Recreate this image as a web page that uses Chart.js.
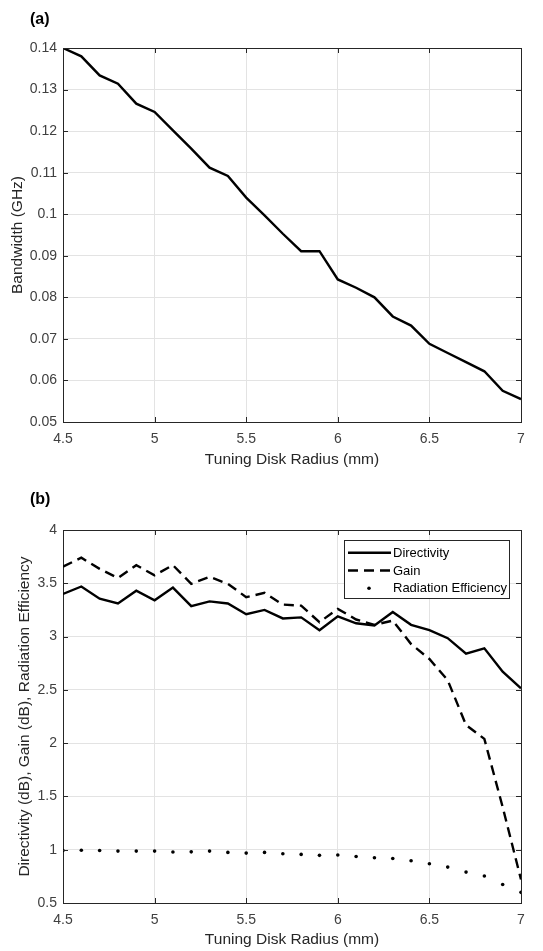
<!DOCTYPE html>
<html>
<head>
<meta charset="utf-8">
<script src="https://cdn.jsdelivr.net/npm/chart.js@4.4.1/dist/chart.umd.min.js"></script>
<style>
  html, body { margin: 0; padding: 0; background: #fff; }
  body { width: 543px; height: 951px; position: relative; overflow: hidden; }
  .wrap { position: absolute; left: 0; width: 543px; }
  .tag { position: absolute; left: 30px; z-index: 2; font: bold 16px "Liberation Sans", Arial, sans-serif; color: #000; }
</style>
</head>
<body>
<div class="wrap" style="top:0;height:475px"><canvas id="bwChart" width="543" height="475"></canvas></div>
<div class="wrap" style="top:475px;height:476px"><canvas id="gainChart" width="543" height="476"></canvas></div>
<div class="tag" style="top:10px">(a)</div>
<div class="tag" style="top:490px">(b)</div>
<script>
// tuning disk radius (mm)
const radius = [4.5, 4.6, 4.7, 4.8, 4.9, 5.0, 5.1, 5.2, 5.3, 5.4, 5.5, 5.6, 5.7,
                5.8, 5.9, 6.0, 6.1, 6.2, 6.3, 6.4, 6.5, 6.6, 6.7, 6.8, 6.9, 7.0];

// (a) bandwidth in GHz
const bandwidth = [0.1400, 0.1380, 0.1334, 0.1314, 0.1266, 0.1246, 0.1202, 0.1158, 0.1112,
                   0.1092, 0.1040, 0.0997, 0.0953, 0.0911, 0.0911, 0.0843, 0.0823, 0.0800,
                   0.0754, 0.0732, 0.0688, 0.0666, 0.0644, 0.0622, 0.0575, 0.0555];

// (b) directivity / gain in dB, radiation efficiency
const directivity = [3.40, 3.47, 3.355, 3.31, 3.43, 3.34, 3.46, 3.285, 3.33, 3.31, 3.21, 3.25, 3.17,
                     3.18, 3.06, 3.19, 3.125, 3.105, 3.23, 3.11, 3.06, 2.985, 2.84, 2.89, 2.67, 2.515];
const gain = [3.657, 3.74, 3.635, 3.55, 3.67, 3.575, 3.67, 3.495, 3.56, 3.495, 3.37, 3.41, 3.30,
              3.29, 3.135, 3.26, 3.16, 3.11, 3.15, 2.93, 2.79, 2.59, 2.17, 2.04, 1.40, 0.72];
const radEff = [0.993, 0.995, 0.993, 0.987, 0.987, 0.987, 0.978, 0.98, 0.987, 0.975, 0.968, 0.975, 0.962,
                0.956, 0.947, 0.95, 0.937, 0.925, 0.918, 0.896, 0.868, 0.837, 0.79, 0.753, 0.674, 0.60];

// tick values
const xTicks = [4.5, 5, 5.5, 6, 6.5, 7];
const yTicksA = [0.05, 0.06, 0.07, 0.08, 0.09, 0.1, 0.11, 0.12, 0.13, 0.14];
const yTicksB = [0.5, 1, 1.5, 2, 2.5, 3, 3.5, 4];

const FONT = '"Liberation Sans", Arial, sans-serif';
const AXIS = '#262626';
const GRID = '#e3e3e3';
const TICK = '#404040';

const pts = (ys) => radius.map((x, i) => ({ x: x, y: ys[i] }));

function scalesFor(yTicks, yTitle, xTitlePad, yTitlePad, xHeight) {
  return {
    x: {
      type: 'linear', position: 'bottom',
      min: xTicks[0], max: xTicks[xTicks.length - 1],
      afterBuildTicks: s => { s.ticks = xTicks.map(v => ({ value: v })); },
      afterFit: s => { s.height = xHeight; },
      ticks: { color: TICK, font: { family: FONT, size: 14 }, padding: 9, maxRotation: 0,
               callback: v => String(v) },
      grid: { color: GRID, drawTicks: false },
      border: { color: AXIS, width: 1 },
      title: { display: true, text: 'Tuning Disk Radius (mm)', color: AXIS,
               font: { family: FONT, size: 15.5 }, padding: { top: 0, bottom: xTitlePad } }
    },
    y: {
      type: 'linear', position: 'left',
      min: yTicks[0], max: yTicks[yTicks.length - 1],
      afterBuildTicks: s => { s.ticks = yTicks.map(v => ({ value: v })); },
      afterFit: s => { s.width = 63; },
      ticks: { color: TICK, font: { family: FONT, size: 14 }, padding: 6,
               callback: v => String(v) },
      grid: { color: GRID, drawTicks: false },
      border: { color: AXIS, width: 1 },
      title: { display: true, text: yTitle, color: AXIS,
               font: { family: FONT, size: 15.5 }, padding: { top: yTitlePad, bottom: 0 } }
    },
    x2: {
      type: 'linear', position: 'top',
      min: xTicks[0], max: xTicks[xTicks.length - 1],
      afterFit: s => { s.height = 0; },
      ticks: { display: false },
      grid: { drawOnChartArea: false, drawTicks: false },
      border: { color: AXIS, width: 1 }
    },
    y2: {
      type: 'linear', position: 'right',
      min: yTicks[0], max: yTicks[yTicks.length - 1],
      afterFit: s => { s.width = 0; },
      ticks: { display: false },
      grid: { drawOnChartArea: false, drawTicks: false },
      border: { color: AXIS, width: 1 }
    }
  };
}

// short tick marks pointing into the plot on all four sides
const innerTicks = {
  id: 'innerTicks',
  afterDraw(chart) {
    const { ctx, chartArea: a, scales } = chart;
    const len = 5;
    ctx.save();
    ctx.strokeStyle = AXIS;
    ctx.lineWidth = 1;
    ctx.beginPath();
    scales.x.ticks.forEach(t => {
      const px = Math.round(scales.x.getPixelForValue(t.value)) + 0.5;
      ctx.moveTo(px, a.bottom); ctx.lineTo(px, a.bottom - len);
      ctx.moveTo(px, a.top); ctx.lineTo(px, a.top + len);
    });
    scales.y.ticks.forEach(t => {
      const py = Math.round(scales.y.getPixelForValue(t.value)) + 0.5;
      ctx.moveTo(a.left, py); ctx.lineTo(a.left + len, py);
      ctx.moveTo(a.right, py); ctx.lineTo(a.right - len, py);
    });
    ctx.stroke();
    ctx.restore();
  }
};

// legend box drawn inside the plot, upper right
const boxLegend = {
  id: 'boxLegend',
  afterDraw(chart) {
    const { ctx, chartArea } = chart;
    const w = 165, h = 58;
    const x = chartArea.right - 12 - w;
    const y = chartArea.top + 10;
    ctx.save();
    ctx.fillStyle = '#fff';
    ctx.fillRect(x, y, w, h);
    ctx.strokeStyle = AXIS;
    ctx.lineWidth = 1;
    ctx.strokeRect(Math.round(x) + 0.5, Math.round(y) + 0.5, w, h);
    ctx.font = '13px ' + FONT;
    ctx.textBaseline = 'middle';
    chart.data.datasets.forEach((ds, i) => {
      const cy = y + 12.7 + i * 17.8;
      ctx.strokeStyle = '#000';
      ctx.fillStyle = '#000';
      if (ds.showLine === false) {
        ctx.beginPath();
        ctx.arc(x + 25, cy, 1.8, 0, Math.PI * 2);
        ctx.fill();
      } else {
        ctx.lineWidth = ds.borderWidth;
        ctx.setLineDash(ds.borderDash || []);
        ctx.beginPath();
        ctx.moveTo(x + 4, cy);
        ctx.lineTo(x + 47, cy);
        ctx.stroke();
        ctx.setLineDash([]);
      }
      ctx.fillStyle = '#000';
      ctx.fillText(ds.label, x + 49, cy + 0.5);
    });
    ctx.restore();
  }
};

new Chart(document.getElementById('bwChart'), {
  type: 'line',
  data: {
    datasets: [{
      label: 'Bandwidth',
      data: pts(bandwidth),
      borderColor: '#000',
      borderWidth: 2.4,
      pointRadius: 0,
      tension: 0,
      fill: false,
      xAxisID: 'x', yAxisID: 'y'
    }]
  },
  options: {
    responsive: false,
    animation: false,
    layout: { padding: { top: 48, right: 22, left: 0, bottom: 0 } },
    plugins: { legend: { display: false }, tooltip: { enabled: false } },
    scales: scalesFor(yTicksA, 'Bandwidth (GHz)', 6, 8, 53)
  },
  plugins: [innerTicks]
});

new Chart(document.getElementById('gainChart'), {
  type: 'line',
  data: {
    datasets: [
      {
        label: 'Directivity',
        data: pts(directivity),
        borderColor: '#000',
        borderWidth: 2.4,
        pointRadius: 0,
        tension: 0,
        fill: false,
        xAxisID: 'x', yAxisID: 'y'
      },
      {
        label: 'Gain',
        data: pts(gain),
        borderColor: '#000',
        borderWidth: 2.4,
        borderDash: [10, 6],
        pointRadius: 0,
        tension: 0,
        fill: false,
        xAxisID: 'x', yAxisID: 'y'
      },
      {
        label: 'Radiation Efficiency',
        data: pts(radEff),
        showLine: false,
        borderColor: '#000',
        backgroundColor: '#000',
        pointRadius: 1.8,
        pointBorderWidth: 0,
        xAxisID: 'x', yAxisID: 'y'
      }
    ]
  },
  options: {
    responsive: false,
    animation: false,
    layout: { padding: { top: 55, right: 22, left: 0, bottom: 0 } },
    plugins: { legend: { display: false }, tooltip: { enabled: false } },
    scales: scalesFor(yTicksB, 'Directivity (dB), Gain (dB), Radiation Efficiency', 2, 15, 48)
  },
  plugins: [innerTicks, boxLegend]
});
</script>
</body>
</html>
